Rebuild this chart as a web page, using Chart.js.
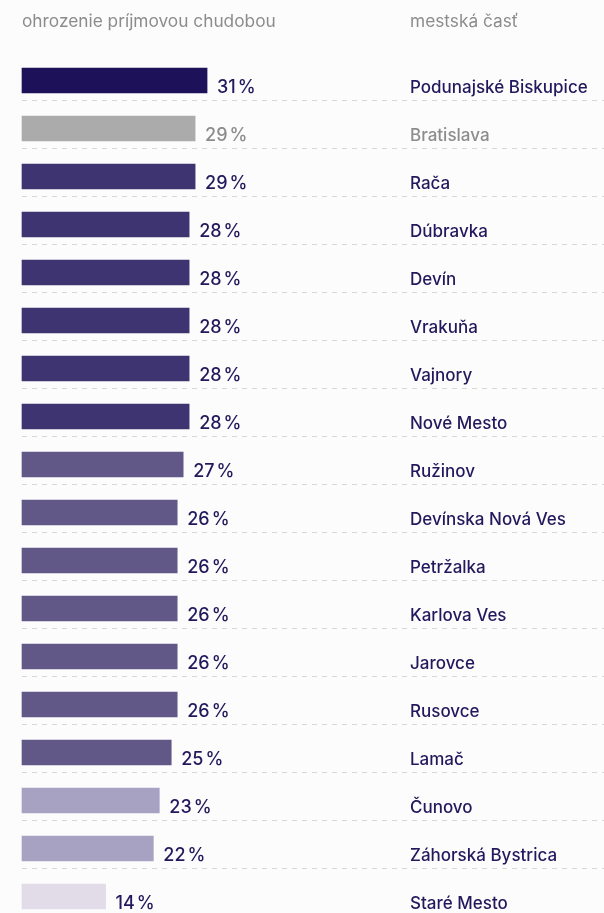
<!DOCTYPE html>
<html>
<head>
<meta charset="utf-8">
<script src="https://cdn.jsdelivr.net/npm/chart.js@4"></script>
<style>
  html, body { margin: 0; padding: 0; background: #fcfcfc; }
  #wrap { position: relative; width: 604px; height: 913px; }
  canvas { display: block; }
</style>
</head>
<body>
<div id="wrap"><canvas id="c" width="604" height="913"></canvas></div>
<script>
const categories = [
  "Podunajské Biskupice", "Bratislava", "Rača", "Dúbravka", "Devín", "Vrakuňa",
  "Vajnory", "Nové Mesto", "Ružinov", "Devínska Nová Ves", "Petržalka",
  "Karlova Ves", "Jarovce", "Rusovce", "Lamač", "Čunovo", "Záhorská Bystrica", "Staré Mesto"
];
const values = [31, 29, 29, 28, 28, 28, 28, 28, 27, 26, 26, 26, 26, 26, 25, 23, 22, 14];
const valueHeader = "ohrozenie príjmovou chudobou";
const categoryHeader = "mestská časť";
const referenceCategory = "Bratislava";

const FONT = "Inter, 'Noto Sans', sans-serif";
const TEXT_DARK = "#22195c";
const TEXT_GRAY = "#8c8c8c";

function barColor(label, v) {
  if (label === referenceCategory) return "#ababab";
  if (v >= 31) return "#1d1259";
  if (v >= 28) return "#3e3472";
  if (v >= 25) return "#615888";
  if (v >= 20) return "#a7a1c2";
  return "#e2dce9";
}

const labelPlugin = {
  id: "labels",
  beforeDatasetsDraw(chart) {
    const ctx = chart.ctx;
    const meta = chart.getDatasetMeta(0);
    ctx.save();
    ctx.strokeStyle = "#d6d6d6";
    ctx.lineWidth = 1;
    ctx.setLineDash([5, 5]);
    meta.data.forEach((bar) => {
      const y = Math.round(bar.y + 19.5) + 0.5;
      ctx.beginPath();
      ctx.moveTo(chart.chartArea.left, y);
      ctx.lineTo(chart.width, y);
      ctx.stroke();
    });
    ctx.restore();
  },
  afterDatasetsDraw(chart) {
    const ctx = chart.ctx;
    const meta = chart.getDatasetMeta(0);
    ctx.save();
    ctx.textBaseline = "alphabetic";
    ctx.textAlign = "left";
    ctx.fillStyle = TEXT_GRAY;
    ctx.font = "400 17.3px " + FONT;
    ctx.fillText(valueHeader, chart.chartArea.left, 27);
    ctx.fillText(categoryHeader, 410, 27);
    meta.data.forEach((bar, i) => {
      const label = categories[i];
      const isRef = label === referenceCategory;
      ctx.fillStyle = isRef ? TEXT_GRAY : TEXT_DARK;
      const base = bar.y + 12;
      ctx.font = "500 18px " + FONT;
      const num = String(values[i]);
      const x0 = bar.x + 10;
      ctx.fillText(num, x0, base);
      const w = ctx.measureText(num).width;
      ctx.fillText("%", x0 + w + 2, base);
      ctx.font = "500 17px " + FONT;
      ctx.fillText(label, 410, base);
    });
    ctx.restore();
  }
};

new Chart(document.getElementById("c"), {
  type: "bar",
  data: {
    labels: categories,
    datasets: [{
      data: values,
      backgroundColor: (c) => barColor(categories[c.dataIndex], values[c.dataIndex]),
      barThickness: 25,
      borderWidth: 0,
      clip: false
    }]
  },
  options: {
    indexAxis: "y",
    responsive: false,
    animation: false,
    layout: { padding: { left: 22, right: 0, top: 80.5, bottom: 16.5 } },
    plugins: { legend: { display: false }, tooltip: { enabled: false } },
    scales: {
      x: { display: false, min: 0, max: 97.5 },
      y: { display: false, offset: false }
    }
  },
  plugins: [labelPlugin]
});
</script>
</body>
</html>
